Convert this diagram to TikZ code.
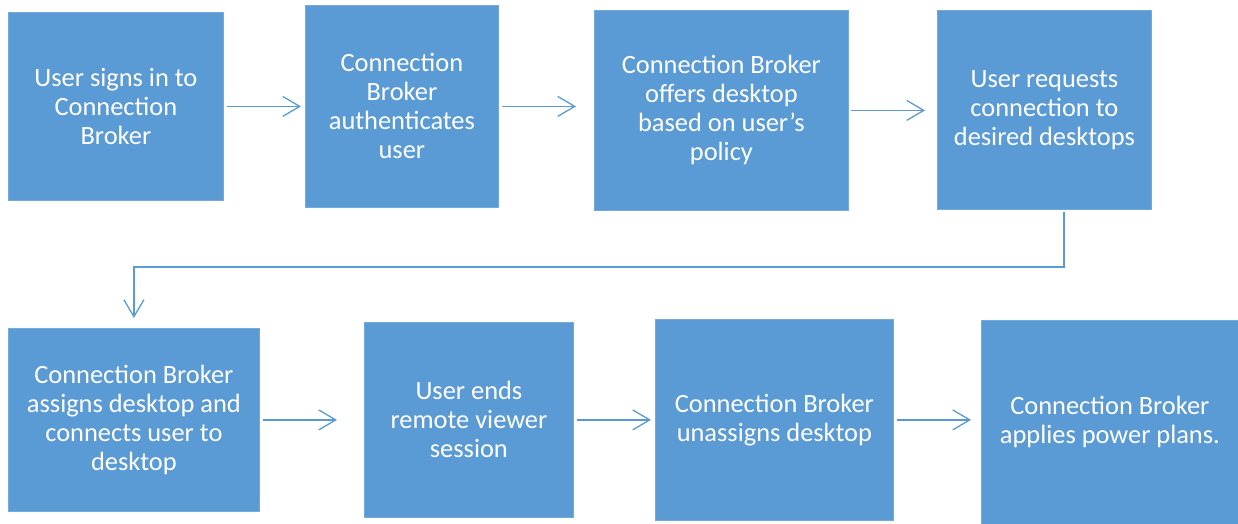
\documentclass[tikz,border=0pt]{standalone}
\usepackage{fontspec}
\setmainfont{Carlito}
\usetikzlibrary{arrows.meta}
\definecolor{boxblue}{HTML}{5B9BD5}
\tikzset{
  box/.style={fill=boxblue, draw=boxblue!85!white, line width=.4pt, text=white, align=center,
    font=\fontsize{13.2}{14.5}\selectfont, inner sep=0pt, anchor=north west},
  arr/.style={draw=boxblue, line width=.65pt, -{Straight Barb[length=8.5pt, width=10pt, line width=.65pt]}}
}
\begin{document}
\begin{tikzpicture}[x=.5pt, y=-.5pt]
            \useasboundingbox(0, 0)rectangle(1238, 524);
            % top row
            \node[box, minimum width=107.5pt, minimum height=94pt](signin)at(8, 12){User signs in to\\Connection\\Broker};
            \node[box, minimum width=96.5pt, minimum height=101pt](auth)at(305, 5){Connection\\Broker\\authenticates\\user};
            \node[box, minimum width=127pt, minimum height=100pt](offer)at(594, 10){Connection Broker\\offers desktop\\based on user’s\\policy};
            \node[box, minimum width=107pt, minimum height=99.5pt](request)at(937, 10){User requests\\connection to\\desired desktops};
            % bottom row
            \node[box, minimum width=125.5pt, minimum height=91.5pt](assign)at(8, 328){Connection Broker\\assigns desktop and\\connects user to\\desktop};
            \node[box, minimum width=104.5pt, minimum height=97.5pt](endsess)at(364, 322){User ends\\remote viewer\\session};
            \node[box, minimum width=119pt, minimum height=100.5pt](unassign)at(655, 319){Connection Broker\\unassigns desktop};
            \node[box, minimum width=128.5pt, minimum height=102pt](power)at(981, 320){Connection Broker\\applies power plans.};
            \coordinate(bend)at(1064, 267);
            \draw[arr, shorten <=1.5pt, shorten >=2pt](signin.east)--(signin.east-|auth.west);
            \draw[arr, shorten <=1.5pt, shorten >=9pt](auth.east)--(auth.east-|offer.west);
            \draw[arr, shorten <=1pt, shorten >=6pt](offer.east)--(offer.east-|request.west);
            \draw[arr, shorten <=1pt, shorten >=5pt](request.south-|bend)--(bend)-|(assign.north);
            \draw[arr, shorten <=1.5pt, shorten >=13.5pt](assign.east)--(assign.east-|endsess.west);
            \draw[arr, shorten <=1.5pt, shorten >=2pt](endsess.east)--(endsess.east-|unassign.west);
            \draw[arr, shorten <=1.5pt, shorten >=5pt](unassign.east)--(unassign.east-|power.west);
        \end{tikzpicture}
\end{document}
